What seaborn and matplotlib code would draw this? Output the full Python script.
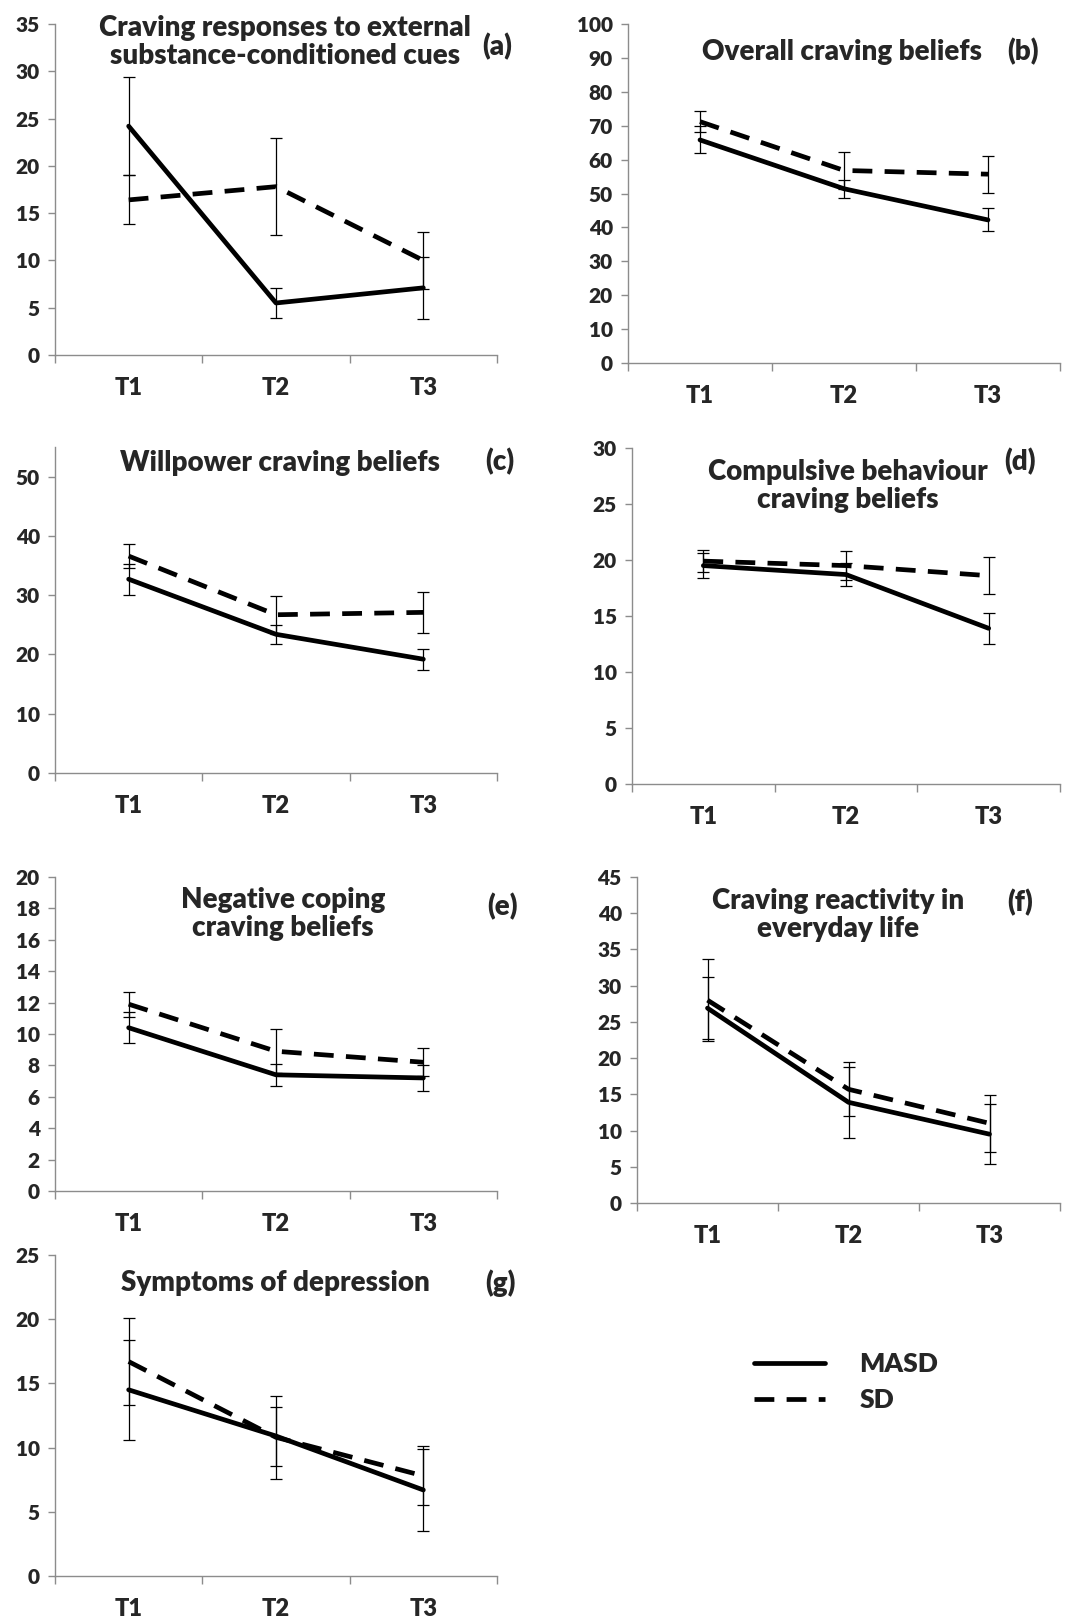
import matplotlib
matplotlib.use('Agg')
import matplotlib.pyplot as plt
from matplotlib.lines import Line2D
import seaborn as sns
import numpy as np
import pandas as pd

# Времена измерений
times = ['T1', 'T2', 'T3']

# (a) Craving responses to external substance-conditioned cues
masd_a = [24.2, 5.5, 7.1]
masd_a_err = [5.2, 1.6, 3.3]
sd_a = [16.4, 17.8, 10.0]
sd_a_err = [2.6, 5.1, 3.0]

# (b) Overall craving beliefs
masd_b = [65.8, 51.4, 42.2]
masd_b_err = [4.0, 2.6, 3.4]
sd_b = [71.2, 56.8, 55.7]
sd_b_err = [3.2, 5.4, 5.5]

# (c) Willpower craving beliefs
masd_c = [32.7, 23.4, 19.2]
masd_c_err = [2.6, 1.6, 1.8]
sd_c = [36.6, 26.7, 27.1]
sd_c_err = [2.0, 3.2, 3.4]

# (d) Compulsive behaviour craving beliefs
masd_d = [19.5, 18.7, 13.9]
masd_d_err = [1.1, 1.0, 1.4]
sd_d = [19.9, 19.5, 18.6]
sd_d_err = [1.0, 1.3, 1.65]

# (e) Negative coping craving beliefs
masd_e = [10.4, 7.4, 7.2]
masd_e_err = [1.0, 0.7, 0.8]
sd_e = [11.9, 8.9, 8.2]
sd_e_err = [0.8, 1.4, 0.9]

# (f) Craving reactivity in everyday life
masd_f = [26.9, 13.9, 9.5]
masd_f_err = [4.3, 4.9, 4.1]
sd_f = [28.0, 15.7, 11.0]
sd_f_err = [5.7, 3.7, 3.9]

# (g) Symptoms of depression
masd_g = [14.5, 10.9, 6.7]
masd_g_err = [3.9, 2.3, 3.2]
sd_g = [16.7, 10.8, 7.8]
sd_g_err = [3.4, 3.25, 2.3]

W, H = 1091, 1623

panels = [
    dict(masd=masd_a, me=masd_a_err, sd=sd_a, se=sd_a_err, ymax=35, step=5,
         box=(55, 24, 497, 355), title='Craving responses to external\nsubstance-conditioned cues',
         tpos=(285, 42), tag='(a)', gpos=(497, 47)),
    dict(masd=masd_b, me=masd_b_err, sd=sd_b, se=sd_b_err, ymax=100, step=10,
         box=(628, 24, 1060, 363), title='Overall craving beliefs',
         tpos=(842, 52), tag='(b)', gpos=(1023, 52)),
    dict(masd=masd_c, me=masd_c_err, sd=sd_c, se=sd_c_err, ymax=55, step=10,
         box=(55, 447, 497, 773), title='Willpower craving beliefs',
         tpos=(280, 463), tag='(c)', gpos=(500, 462)),
    dict(masd=masd_d, me=masd_d_err, sd=sd_d, se=sd_d_err, ymax=30, step=5,
         box=(632, 448, 1060, 784), title='Compulsive behaviour\ncraving beliefs',
         tpos=(848, 486), tag='(d)', gpos=(1020, 462)),
    dict(masd=masd_e, me=masd_e_err, sd=sd_e, se=sd_e_err, ymax=20, step=2,
         box=(55, 877, 497, 1191), title='Negative coping\ncraving beliefs',
         tpos=(283, 914), tag='(e)', gpos=(502, 907)),
    dict(masd=masd_f, me=masd_f_err, sd=sd_f, se=sd_f_err, ymax=45, step=5,
         box=(637, 877, 1060, 1203), title='Craving reactivity in\neveryday life',
         tpos=(838, 915), tag='(f)', gpos=(1020, 903)),
    dict(masd=masd_g, me=masd_g_err, sd=sd_g, se=sd_g_err, ymax=25, step=5,
         box=(55, 1255, 497, 1576), title='Symptoms of depression',
         tpos=(275, 1283), tag='(g)', gpos=(500, 1283)),
]

sns.set_style('white')
plt.rcParams['font.family'] = ['Lato', 'DejaVu Sans']
wt = 800
plt.rcParams['font.weight'] = wt

fig = plt.figure(figsize=(W / 100, H / 100), dpi=100)
grey = '#8c8c8c'
lw = 3.4
dash = (4.2, 2.6)

for p in panels:
    x0, y0, x1, y1 = p['box']
    ax = fig.add_axes([x0 / W, 1 - y1 / H, (x1 - x0) / W, (y1 - y0) / H])
    df = pd.DataFrame({
        'time': times * 2,
        'value': p['masd'] + p['sd'],
        'group': ['MASD'] * 3 + ['SD'] * 3,
    })
    sns.lineplot(data=df, x='time', y='value', style='group', ax=ax,
                 color='black', linewidth=lw, legend=False,
                 dashes={'MASD': '', 'SD': dash}, zorder=3)
    xs = np.arange(len(times))
    for vals, errs in [(p['masd'], p['me']), (p['sd'], p['se'])]:
        ax.errorbar(xs, vals, yerr=errs, fmt='none', ecolor='black',
                    elinewidth=0.9, capsize=4.5, capthick=0.9, zorder=4)

    ax.set_xlim(-0.5, 2.5)
    ax.set_ylim(0, p['ymax'])
    ax.set_yticks(np.arange(0, p['ymax'] + 0.01, p['step']))
    ax.set_xticks(xs)
    ax.set_xticklabels(times)
    ax.set_xticks([-0.5, 0.5, 1.5, 2.5], minor=True)
    ax.set_xlabel('')
    ax.set_ylabel('')
    for side in ['top', 'right']:
        ax.spines[side].set_visible(False)
    for side in ['left', 'bottom']:
        ax.spines[side].set_color(grey)
        ax.spines[side].set_linewidth(1.0)
    ax.tick_params(axis='y', which='major', left=True, length=5, width=1,
                   color=grey, labelsize=15, pad=6)
    ax.tick_params(axis='x', which='major', bottom=False, labelsize=17, pad=12)
    ax.tick_params(axis='x', which='minor', bottom=True, length=6, width=1,
                   color=grey)
    for lab in ax.get_xticklabels() + ax.get_yticklabels():
        lab.set_fontweight(wt)

    tx, ty = p['tpos']
    fig.text(tx / W, 1 - ty / H, p['title'], ha='center', va='center',
             fontsize=20, fontweight=wt, linespacing=1.1)
    gx, gy = p['gpos']
    fig.text(gx / W, 1 - gy / H, p['tag'], ha='center', va='center',
             fontsize=20, fontweight=wt)

handles = [
    Line2D([], [], color='black', linewidth=lw),
    Line2D([], [], color='black', linewidth=lw, dashes=dash),
]
fig.legend(handles, ['MASD', 'SD'], loc='center left',
           bbox_to_anchor=(730 / W, 1 - 1382 / H), frameon=False,
           prop={'size': 19, 'weight': wt}, handlelength=2.7,
           handletextpad=1.3, labelspacing=0.45)

fig.savefig('out.png', dpi=100, facecolor='white')
